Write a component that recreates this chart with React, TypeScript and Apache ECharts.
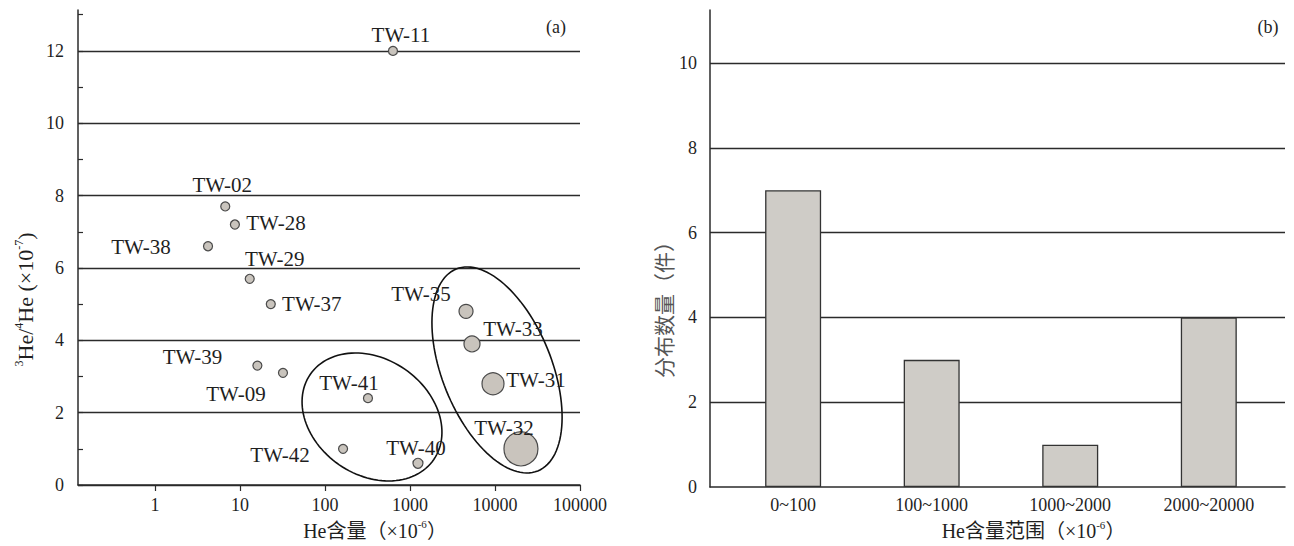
import React, { useEffect, useRef } from "react";
import * as echarts from "echarts";

// ---- Data: panel (a) ----
const sampleNames = ["TW-11", "TW-02", "TW-28", "TW-38", "TW-29", "TW-37", "TW-39", "TW-09", "TW-41", "TW-42", "TW-40", "TW-35", "TW-33", "TW-31", "TW-32"];
const heContent = [630, 6.7, 8.7, 4.2, 13, 23, 16, 32, 320, 163, 1240, 4560, 5360, 9470, 20200];
const heRatio = [12.0, 7.7, 7.2, 6.6, 5.7, 5.0, 3.3, 3.1, 2.4, 1.0, 0.6, 4.8, 3.9, 2.8, 1.0];
const markerSize = [9, 9, 9, 9, 9, 9, 9, 9, 9, 9, 10, 14, 16, 22, 34];
const labelOffset: number[][] = [[8, -16], [-3, -21], [41, -2], [-67, 1], [25, -20], [41, 0], [-65, -9], [-47, 21], [-19, -15], [-63, 6], [-2, -15], [-45, -17], [41, -15], [43, -4], [-17, -21]];
const xTicks = [1, 10, 100, 1000, 10000, 100000];
// ellipses: [centerX, centerY, majorEndX, majorEndY, minorEndX, minorEndY]
const ellipses = [
  [357, 1.88, 1905, 0.705, 147, 0.558],
  [10560, 3.18, 31900, 0.39, 2673, 2.61],
];

// ---- Data: panel (b) ----
const binLabels = ["0~100", "100~1000", "1000~2000", "2000~20000"];
const binCounts = [7, 3, 1, 4];

const FONT = "'Liberation Serif', 'Times New Roman', 'Noto Sans CJK SC', serif";
const LINE = "#2b2b2b";
const TEXT = "#1f1f1f";

export default function App() {
  const ref = useRef<HTMLDivElement>(null);
  useEffect(() => {
    document.body.style.margin = "0";
    if (!ref.current) return;
    const chart = echarts.init(ref.current, undefined, { renderer: "svg" });

    const scatterData = sampleNames.map((n, i) => ({
      name: n,
      value: [heContent[i], heRatio[i]],
      symbolSize: markerSize[i],
    }));
    const barData = binCounts.map((c, i) => [i, c]);
    const binIdx = binLabels.map((_, i) => i);

    const xRich = {
      a: { fontSize: 20, fontFamily: FONT, color: TEXT, lineHeight: 24 },
      s: { fontSize: 11, fontFamily: FONT, color: TEXT, verticalAlign: "top", lineHeight: 24 },
    };
    const yRich = {
      a: { fontSize: 22, fontFamily: FONT, color: TEXT, lineHeight: 24 },
      s: { fontSize: 12, fontFamily: FONT, color: TEXT, verticalAlign: "top", lineHeight: 24 },
    };

    const option: any = {
      animation: false,
      backgroundColor: "#ffffff",
      textStyle: { fontFamily: FONT, color: TEXT },
      grid: [
        { left: 78, top: 10, width: 502, height: 475 },
        { left: 710, top: 10, width: 575, height: 478 },
      ],
      xAxis: [
        {
          type: "log",
          gridIndex: 0,
          logBase: 10,
          min: 0.124,
          max: 100000,
          axisLine: { lineStyle: { color: LINE, width: 1.5 } },
          axisTick: { show: true, length: 6, customValues: xTicks, lineStyle: { color: LINE, width: 1.2 } },
          axisLabel: {
            customValues: xTicks,
            formatter: (v: number) => String(Math.round(v)),
            fontSize: 18,
            color: TEXT,
            margin: 11,
            fontFamily: FONT,
          },
          splitLine: { show: false },
          minorTick: { show: false },
          name: "{a|He含量（×10}{s|-6}{a|）}",
          nameLocation: "middle",
          nameGap: 33,
          nameTextStyle: { padding: [0, 0, 0, 92], rich: xRich },
        },
        {
          type: "value",
          gridIndex: 1,
          min: -0.6,
          max: 3.55,
          axisLine: { onZero: false, lineStyle: { color: LINE, width: 1.5 } },
          axisTick: { show: false, customValues: binIdx },
          axisLabel: {
            customValues: binIdx,
            formatter: (v: number) => binLabels[Math.round(v)] ?? "",
            fontSize: 18,
            color: TEXT,
            margin: 9,
            fontFamily: FONT,
          },
          splitLine: { show: false },
          name: "{a|He含量范围（×10}{s|-6}{a|）}",
          nameLocation: "middle",
          nameGap: 30,
          nameTextStyle: { padding: [0, 0, 0, 72], rich: xRich },
        },
      ],
      yAxis: [
        {
          type: "value",
          gridIndex: 0,
          min: 0,
          max: 13.13,
          interval: 1,
          axisLine: { show: true, onZero: false, lineStyle: { color: LINE, width: 1.5 } },
          axisTick: { show: true, inside: true, length: 5, lineStyle: { color: LINE, width: 1.2 } },
          axisLabel: {
            formatter: (v: number) => (Math.abs(v % 2) < 1e-6 ? String(v) : ""),
            showMaxLabel: false,
            fontSize: 18,
            color: TEXT,
            margin: 14,
            fontFamily: FONT,
          },
          splitLine: {
            show: true,
            showMinLine: true,
            showMaxLine: false,
            lineStyle: { color: [LINE, "rgba(0,0,0,0)"], width: 1.3 },
          },
          name: "{s|3}{a|He/}{s|4}{a|He (×10}{s|-7}{a|)}",
          nameLocation: "middle",
          nameGap: 41,
          nameTextStyle: { padding: [0, 104, 0, 0], rich: yRich },
        },
        {
          type: "value",
          gridIndex: 1,
          min: 0,
          max: 11.25,
          interval: 2,
          axisLine: { show: true, onZero: false, lineStyle: { color: LINE, width: 1.5 } },
          axisTick: { show: false },
          axisLabel: { showMaxLabel: false, fontSize: 18, color: TEXT, margin: 13, fontFamily: FONT },
          splitLine: {
            show: true,
            showMinLine: false,
            showMaxLine: false,
            lineStyle: { color: LINE, width: 1.3 },
          },
          name: "分布数量（件）",
          nameLocation: "middle",
          nameGap: 37,
          nameTextStyle: {
            fontSize: 21,
            color: "#555",
            fontFamily: "'Noto Sans CJK SC', sans-serif",
            padding: [0, 112, 0, 0],
          },
        },
      ],
      series: [
        {
          type: "custom",
          xAxisIndex: 0,
          yAxisIndex: 0,
          data: ellipses,
          encode: { x: 0, y: 1 },
          z: 3,
          silent: true,
          renderItem: (params: any, api: any) => {
            const c = api.coord([api.value(0), api.value(1)]);
            const m = api.coord([api.value(2), api.value(3)]);
            const n = api.coord([api.value(4), api.value(5)]);
            const ux = m[0] - c[0], uy = m[1] - c[1];
            const vx = n[0] - c[0], vy = n[1] - c[1];
            const pts: number[][] = [];
            for (let k = 0; k < 120; k++) {
              const t = (k / 120) * Math.PI * 2;
              pts.push([c[0] + Math.cos(t) * ux + Math.sin(t) * vx, c[1] + Math.cos(t) * uy + Math.sin(t) * vy]);
            }
            return {
              type: "polygon",
              shape: { points: pts },
              style: { fill: "none", stroke: "#111", lineWidth: 1.6 },
            };
          },
        },
        {
          type: "scatter",
          xAxisIndex: 0,
          yAxisIndex: 0,
          data: scatterData,
          z: 4,
          itemStyle: { color: "#c9c4bd", borderColor: "#4a4a4a", borderWidth: 1.2, opacity: 1 },
          label: {
            show: true,
            position: "inside",
            formatter: (p: any) => p.name,
            fontSize: 21,
            fontFamily: FONT,
            color: TEXT,
          },
          labelLayout: (p: any) => ({
            dx: labelOffset[p.dataIndex][0],
            dy: labelOffset[p.dataIndex][1],
            hideOverlap: false,
          }),
        },
        {
          type: "bar",
          xAxisIndex: 1,
          yAxisIndex: 1,
          data: barData,
          barWidth: 56,
          itemStyle: { color: "#cfccc7", borderColor: "#333", borderWidth: 1.3 },
        },
      ],
      graphic: [
        { type: "text", x: 556, y: 27, style: { text: "(a)", font: `18px ${FONT}`, fill: TEXT, textAlign: "center", textVerticalAlign: "middle" } },
        { type: "text", x: 1268, y: 27, style: { text: "(b)", font: `18px ${FONT}`, fill: TEXT, textAlign: "center", textVerticalAlign: "middle" } },
      ],
    };
    chart.setOption(option);
    return () => chart.dispose();
  }, []);
  return <div ref={ref} style={{ width: 1294, height: 546 }} />;
}
